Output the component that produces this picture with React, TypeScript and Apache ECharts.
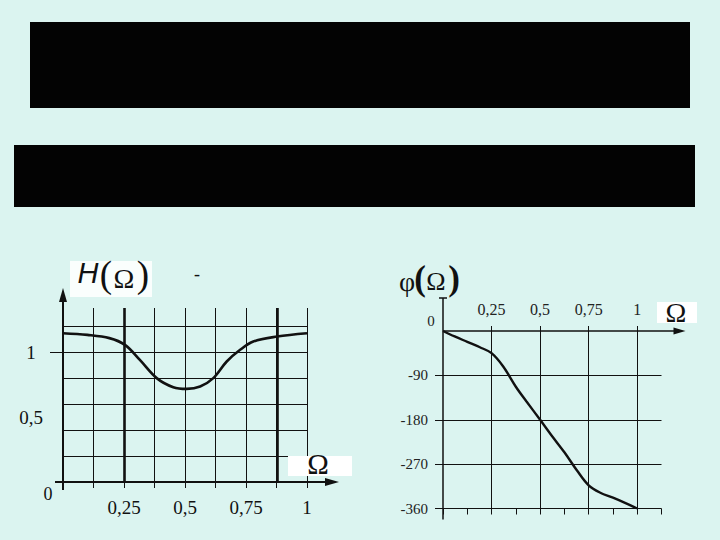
import React, { useEffect, useRef } from "react";
import * as echarts from "echarts";

// ---- data ----
const H_OMEGA = [0, 0.1, 0.19, 0.254, 0.315, 0.384, 0.452, 0.507, 0.562, 0.616, 0.671, 0.726, 0.78, 0.877, 1];
const H_VALUES = [1.146, 1.133, 1.108, 1.056, 0.94, 0.8, 0.73, 0.717, 0.735, 0.8, 0.928, 1.018, 1.082, 1.12, 1.146];
const H_X_LABELS = [0.25, 0.5, 0.75, 1];
const H_Y_LABELS = [0.5, 1];
const H_GRID_Y = [0.2, 0.4, 0.6, 0.8, 1.0, 1.2];
const H_BOLD_X = [0.25, 0.875];

const P_OMEGA = [0, 0.06, 0.125, 0.19, 0.25, 0.31, 0.375, 0.43, 0.5, 0.565, 0.625, 0.69, 0.75, 0.81, 0.875, 0.94, 1.0];
const P_VALUES = [0, -11, -22, -33, -45, -72, -113, -143, -180, -215, -246, -283, -313, -328, -338, -349, -360];
const P_X_LABELS = [0.25, 0.5, 0.75, 1];
const P_Y_LABELS = [-90, -180, -270, -360];

const BG = "#DBF4F0";
const INK = "#111111";
const SERIF = "Liberation Serif";

const LG = { left: 63, top: 308, width: 244, height: 174 };
const RG = { left: 443, top: 331, width: 218.5, height: 177.5 };

const fmt = (v: number) => String(v).replace(".", ",");

export default function App() {
  const ref = useRef<HTMLDivElement>(null);
  useEffect(() => {
    if (!ref.current) return;
    const chart = echarts.init(ref.current, null, { renderer: "svg" });
    const lb = LG.top + LG.height;
    const lr = LG.left + LG.width;
    const rr = RG.left + RG.width;
    const txt = (x: number, y: number, text: string, size: number, extra: any = {}) => ({
      type: "text",
      x,
      y,
      z: 20,
      style: {
        text,
        fontFamily: SERIF,
        fontSize: size,
        fill: INK,
        align: "center",
        verticalAlign: "middle",
        ...extra,
      },
    });
    const option: any = {
      animation: false,
      backgroundColor: BG,
      grid: [
        { left: LG.left, top: LG.top, width: LG.width, height: LG.height },
        { left: RG.left, top: RG.top, width: RG.width, height: RG.height },
      ],
      xAxis: [
        {
          gridIndex: 0,
          type: "value",
          min: 0,
          max: 1,
          interval: 0.125,
          axisLine: { show: false },
          axisTick: { show: true, length: 6, lineStyle: { color: INK, width: 1 } },
          axisLabel: {
            customValues: H_X_LABELS,
            formatter: fmt,
            margin: 16,
            fontSize: 19,
            fontFamily: SERIF,
            color: INK,
          },
          splitLine: { show: true, lineStyle: { color: INK, width: 1 } },
        },
        {
          gridIndex: 1,
          type: "value",
          position: "top",
          min: 0,
          max: 1.125,
          interval: 0.125,
          axisLine: { show: false, onZero: false },
          axisTick: { show: true, customValues: P_X_LABELS, length: 5, lineStyle: { color: INK } },
          axisLabel: {
            customValues: P_X_LABELS,
            formatter: fmt,
            margin: 14,
            fontSize: 16,
            fontFamily: SERIF,
            color: "#222",
          },
          splitLine: { show: true, lineStyle: { color: INK, width: 1 } },
        },
        {
          gridIndex: 1,
          type: "value",
          position: "bottom",
          min: 0,
          max: 1.125,
          interval: 0.125,
          axisLine: { show: false, onZero: false },
          axisTick: { show: true, length: 6, lineStyle: { color: INK } },
          axisLabel: { show: false },
          splitLine: { show: false },
        },
      ],
      yAxis: [
        {
          gridIndex: 0,
          type: "value",
          min: 0,
          max: 1.34,
          axisLine: { show: false },
          axisTick: { show: true, customValues: [1], length: 13, lineStyle: { color: INK } },
          axisLabel: {
            customValues: H_Y_LABELS,
            formatter: fmt,
            align: "center",
            margin: 32,
            fontSize: 19,
            fontFamily: SERIF,
            color: INK,
          },
          splitLine: { show: false },
        },
        {
          gridIndex: 1,
          type: "value",
          min: -360,
          max: 0,
          interval: 45,
          axisLine: { show: false },
          axisTick: { show: true, customValues: P_Y_LABELS, length: 8, lineStyle: { color: INK } },
          axisLabel: {
            customValues: P_Y_LABELS,
            margin: 15,
            fontSize: 15,
            fontFamily: SERIF,
            color: "#222",
          },
          splitLine: { show: true, lineStyle: { color: INK, width: 1 } },
        },
      ],
      series: [
        {
          type: "line",
          xAxisIndex: 0,
          yAxisIndex: 0,
          data: H_OMEGA.map((x, i) => [x, H_VALUES[i]]),
          smooth: 0.35,
          symbol: "none",
          lineStyle: { color: INK, width: 2.6 },
          markLine: {
            silent: true,
            symbol: "none",
            label: { show: false },
            data: [
              ...H_GRID_Y.map((v) => ({ yAxis: v, lineStyle: { color: INK, width: 1, type: "solid" } })),
              ...H_BOLD_X.map((v) => ({ xAxis: v, lineStyle: { color: INK, width: 2.6, type: "solid" } })),
            ],
          },
        },
        {
          type: "line",
          xAxisIndex: 1,
          yAxisIndex: 1,
          data: P_OMEGA.map((x, i) => [x, P_VALUES[i]]),
          smooth: 0.35,
          symbol: "none",
          lineStyle: { color: INK, width: 2.4 },
        },
      ],
      graphic: [
        // top black boxes
        { type: "rect", z: 20, shape: { x: 30, y: 22, width: 660, height: 86 }, style: { fill: "#030303" } },
        { type: "rect", z: 20, shape: { x: 14, y: 145, width: 681, height: 62 }, style: { fill: "#030303" } },
        // left axes
        { type: "line", z: 20, shape: { x1: LG.left, y1: lb + 8, x2: LG.left, y2: LG.top - 10 }, style: { stroke: INK, lineWidth: 2 } },
        { type: "polygon", z: 20, shape: { points: [[LG.left, LG.top - 20], [LG.left - 4, LG.top - 6], [LG.left + 4, LG.top - 6]] }, style: { fill: INK } },
        { type: "line", z: 20, shape: { x1: LG.left - 8, y1: lb, x2: lr + 23, y2: lb }, style: { stroke: INK, lineWidth: 2 } },
        { type: "polygon", z: 20, shape: { points: [[lr + 32, lb], [lr + 18, lb - 4], [lr + 18, lb + 4]] }, style: { fill: INK } },
        // left title
        { type: "rect", z: 19, shape: { x: 70, y: 261, width: 82, height: 36 }, style: { fill: "#ffffff", opacity: 0.85 } },
        txt(88, 273, "H", 29, { fontFamily: "Liberation Sans", fontStyle: "italic" }),
        txt(106, 274, "(", 37),
        txt(124, 278, "Ω", 28),
        txt(143, 274, ")", 37),
        txt(197, 274, "-", 18),
        // left Ω label
        { type: "rect", z: 19, shape: { x: 288, y: 456, width: 64, height: 20 }, style: { fill: "#ffffff" } },
        txt(318, 464, "Ω", 29),
        txt(48, 494, "0", 18),
        // right axes
        { type: "line", z: 20, shape: { x1: RG.left, y1: RG.top - 33, x2: RG.left, y2: RG.top + RG.height + 11 }, style: { stroke: INK, lineWidth: 1.5 } },
        { type: "line", z: 20, shape: { x1: RG.left - 4, y1: RG.top - 33, x2: RG.left + 4, y2: RG.top - 33 }, style: { stroke: INK, lineWidth: 1.5 } },
        { type: "line", z: 20, shape: { x1: RG.left, y1: RG.top, x2: rr + 16, y2: RG.top }, style: { stroke: INK, lineWidth: 1.5 } },
        { type: "polygon", z: 20, shape: { points: [[rr + 24, RG.top], [rr + 12, RG.top - 3.5], [rr + 12, RG.top + 3.5]] }, style: { fill: INK } },
        // right title
        txt(407, 281, "φ", 28),
        txt(420, 278, "(", 35, { fontWeight: "bold" }),
        txt(436, 281, "Ω", 26),
        txt(454, 278, ")", 35, { fontWeight: "bold" }),
        txt(431, 321, "0", 15, { fill: "#222" }),
        // right Ω label
        { type: "rect", z: 19, shape: { x: 657, y: 302, width: 40, height: 21 }, style: { fill: "#ffffff" } },
        txt(676, 312, "Ω", 28),
      ],
    };
    chart.setOption(option);
    return () => chart.dispose();
  }, []);
  return (
    <div
      ref={ref}
      style={{ position: "fixed", left: 0, top: 0, width: 720, height: 540 }}
    />
  );
}
